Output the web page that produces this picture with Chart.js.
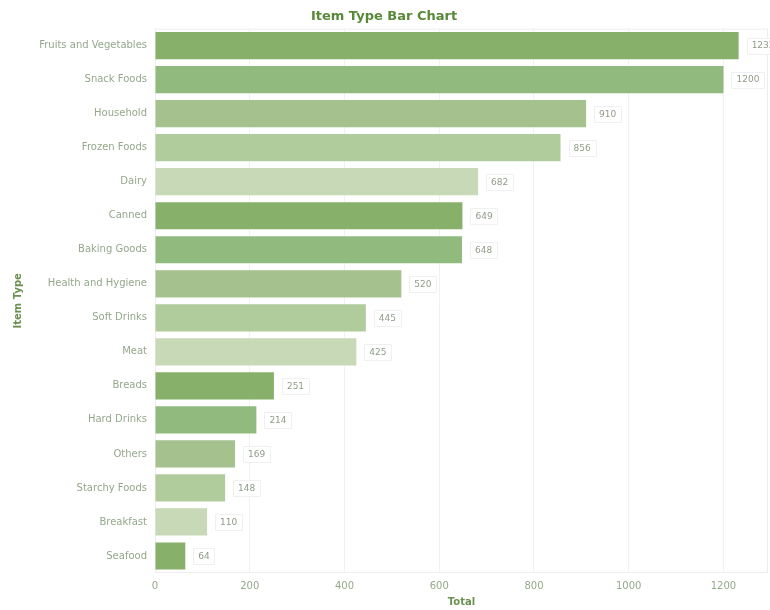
<!DOCTYPE html>
<html>
<head>
<meta charset="utf-8">
<script src="https://cdn.jsdelivr.net/npm/chart.js@4/dist/chart.umd.min.js"></script>
<style>
  html, body { margin: 0; padding: 0; background: #ffffff; }
  #wrap { width: 770px; height: 610px; }
</style>
</head>
<body>
<div id="wrap"><canvas id="itemChart" width="770" height="610"></canvas></div>
<script>
// item counts per type
const itemTypes = ['Fruits and Vegetables', 'Snack Foods', 'Household', 'Frozen Foods', 'Dairy',
  'Canned', 'Baking Goods', 'Health and Hygiene', 'Soft Drinks', 'Meat',
  'Breads', 'Hard Drinks', 'Others', 'Starchy Foods', 'Breakfast', 'Seafood']
const totals = [1232, 1200, 910, 856, 682, 649, 648, 520, 445, 425, 251, 214, 169, 148, 110, 64]
const xTicks = [0, 200, 400, 600, 800, 1000, 1200]

// five greens, repeated down the bars
const greens = ['#87b06b', '#91ba7e', '#a4c18e', '#b0cb9c', '#c7d9b6']
const barColors = totals.map((v, i) => greens[i % greens.length])

const FONT = 'DejaVu Sans'

// little boxed number at the end of every bar
const valueLabels = {
  id: 'valueLabels',
  afterDatasetsDraw(chart) {
    const ctx = chart.ctx
    const meta = chart.getDatasetMeta(0)
    ctx.save()
    ctx.font = '9px "' + FONT + '"'
    ctx.textBaseline = 'middle'
    meta.data.forEach((bar, i) => {
      const txt = String(totals[i])
      const tw = ctx.measureText(txt).width
      const x = bar.x + 13
      const y = bar.y
      ctx.fillStyle = 'rgba(255,255,255,0.9)'
      ctx.strokeStyle = '#f0f0f0'
      ctx.lineWidth = 1
      ctx.beginPath()
      ctx.rect(Math.round(x - 5) + 0.5, Math.round(y - 8) + 0.5, Math.round(tw + 10), 16)
      ctx.fill()
      ctx.stroke()
      ctx.fillStyle = '#909c88'
      ctx.fillText(txt, x, y + 0.5)
    })
    ctx.restore()
  }
}

// faint frame round the plot area
const frame = {
  id: 'frame',
  beforeDatasetsDraw(chart) {
    const a = chart.chartArea
    const ctx = chart.ctx
    ctx.save()
    ctx.strokeStyle = '#ededed'
    ctx.lineWidth = 1
    ctx.strokeRect(a.left + 0.5, a.top + 0.5, a.right - a.left - 1, a.bottom - a.top - 1)
    ctx.restore()
  }
}

const ctx = document.getElementById('itemChart').getContext('2d')
new Chart(ctx, {
  type: 'bar',
  data: {
    labels: itemTypes,
    datasets: [{
      label: 'Total',
      data: totals,
      backgroundColor: barColors,
      borderWidth: 0,
      barPercentage: 0.8,
      categoryPercentage: 1.0
    }]
  },
  options: {
    indexAxis: 'y',
    responsive: false,
    animation: false,
    layout: { padding: { left: 0, right: 2, top: 0, bottom: 0 } },
    plugins: {
      legend: { display: false },
      tooltip: { enabled: false },
      title: {
        display: true,
        text: 'Item Type Bar Chart',
        color: '#578a38',
        font: { family: FONT, size: 13, weight: 'bold' },
        padding: { top: 9, bottom: 4 }
      }
    },
    scales: {
      x: {
        min: 0,
        max: 1294,
        afterBuildTicks: scale => {
          scale.ticks = xTicks.map(v => ({ value: v }))
        },
        afterFit: scale => { scale.height = 37 },
        grid: { color: '#f1f1f1', drawTicks: false },
        border: { display: false },
        ticks: {
          color: '#94a88a',
          font: { family: FONT, size: 10 },
          padding: 7,
          maxRotation: 0,
          callback: v => String(v)
        },
        title: {
          display: true,
          text: 'Total',
          color: '#6a9150',
          font: { family: FONT, size: 10, weight: 'bold' },
          padding: { top: 0, bottom: 2 }
        }
      },
      y: {
        afterFit: scale => { scale.width = 155 },
        grid: { display: false, drawTicks: false },
        border: { display: false },
        ticks: {
          color: '#94a88a',
          font: { family: FONT, size: 10 },
          padding: 8
        },
        title: {
          display: true,
          text: 'Item Type',
          color: '#6a9150',
          font: { family: FONT, size: 10, weight: 'bold' },
          padding: { top: 12, bottom: 0 }
        }
      }
    }
  },
  plugins: [frame, valueLabels]
})
</script>
</body>
</html>
